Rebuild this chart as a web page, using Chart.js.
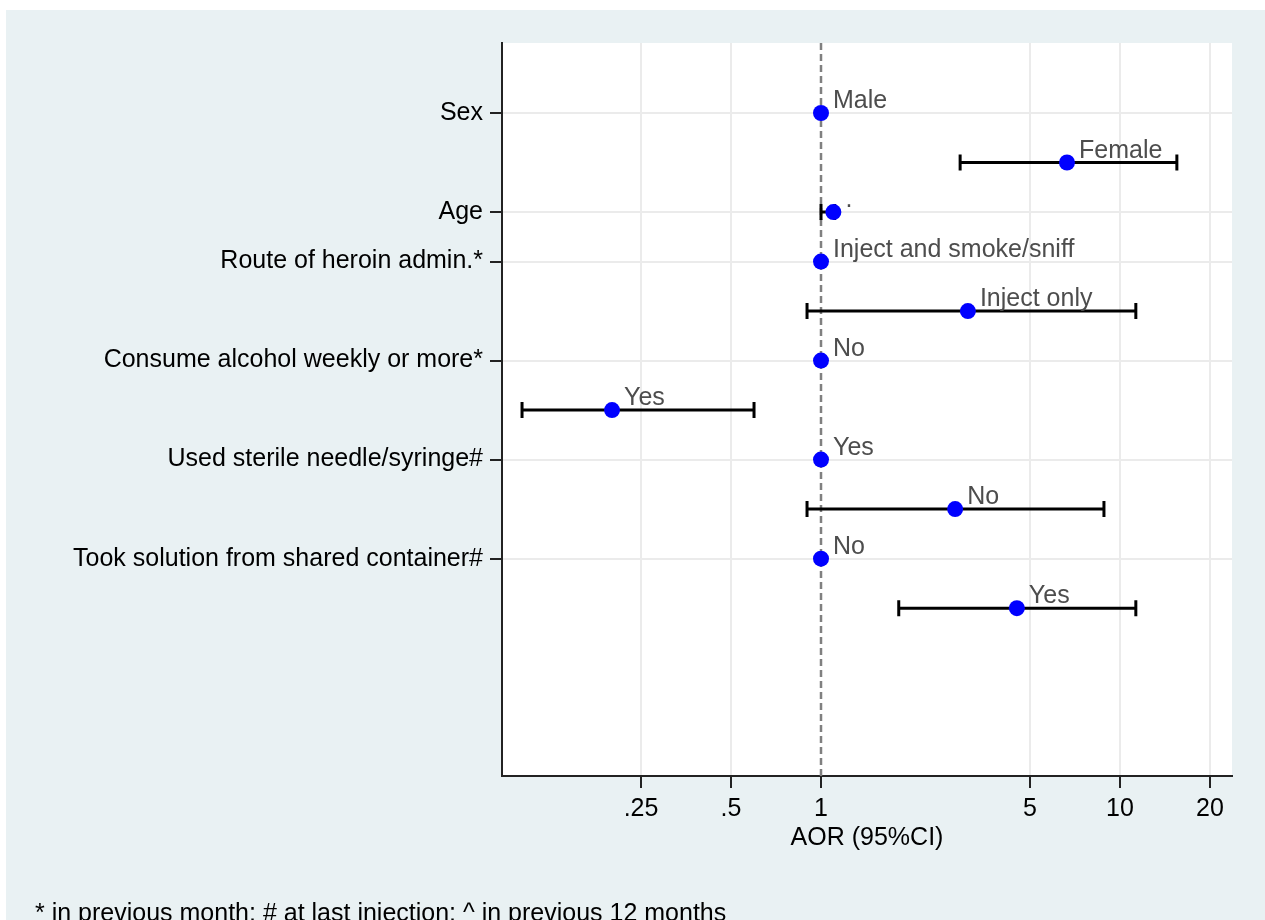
<!DOCTYPE html>
<html>
<head>
<meta charset="utf-8">
<script src="https://cdn.jsdelivr.net/npm/chart.js@4"></script>
<style>
  html, body { margin: 0; padding: 0; background: #fff; overflow: hidden; }
  #frame { position: absolute; left: 6px; top: 10px; width: 1259px; height: 910px; background: #e9f1f3; }
  #frame canvas { position: absolute; left: 0; top: 0; }
  #note { position: absolute; left: 35px; top: 897px; font: 25px "Liberation Sans", Arial, sans-serif; line-height: 30px; color: #000; white-space: nowrap; }
</style>
</head>
<body>
<div id="frame"><canvas id="forest" width="1259" height="910"></canvas></div>
<div id="note">* in previous month; # at last injection; ^ in previous 12 months</div>
<script>
"use strict";
// variable names on the y axis and the row each one sits on
const rowLabels = [
  "Sex",
  "Age",
  "Route of heroin admin.*",
  "Consume alcohol weekly or more*",
  "Used sterile needle/syringe#",
  "Took solution from shared container#",
];
const labelRows = [1, 3, 4, 6, 8, 10];

// one entry per estimate, top to bottom
const levels = ["Male", "Female", ".", "Inject and smoke/sniff", "Inject only", "No", "Yes", "Yes", "No", "No", "Yes"];
const aor = [1, 6.65, 1.1, 1, 3.1, 1, 0.2, 1, 2.81, 1, 4.52];
const ciLow = [null, 2.92, 1.0, null, 0.898, null, 0.1, null, 0.898, null, 1.82];
const ciHigh = [null, 15.5, 1.11, null, 11.3, null, 0.597, null, 8.84, null, 11.3];

const xTicks = [0.25, 0.5, 1, 5, 10, 20];

const FONT = '"Liberation Sans", Arial, sans-serif';
Chart.defaults.font.family = FONT;
Chart.defaults.color = "#000";

const forestMarks = {
  id: "forestMarks",
  beforeDraw(chart) {
    // white plot region on the tinted page
    const { ctx, chartArea: a } = chart;
    ctx.save();
    ctx.fillStyle = "#fff";
    ctx.fillRect(a.left, a.top, a.right - a.left, a.bottom - a.top);
    ctx.restore();
  },
  beforeDatasetsDraw(chart) {
    const { ctx, chartArea, scales: { x, y } } = chart;
    ctx.save();
    // null line at AOR = 1
    const x1 = x.getPixelForValue(1);
    ctx.strokeStyle = "#808080";
    ctx.lineWidth = 2.5;
    ctx.setLineDash([7, 4]);
    ctx.beginPath();
    ctx.moveTo(x1, chartArea.top);
    ctx.lineTo(x1, chartArea.bottom);
    ctx.stroke();
    ctx.setLineDash([]);

    // confidence intervals
    ctx.strokeStyle = "#000";
    ctx.lineWidth = 3;
    aor.forEach((v, i) => {
      if (ciLow[i] == null) return;
      const py = y.getPixelForValue(i + 1);
      const a = x.getPixelForValue(ciLow[i]);
      const b = x.getPixelForValue(ciHigh[i]);
      ctx.beginPath();
      ctx.moveTo(a, py);
      ctx.lineTo(b, py);
      ctx.moveTo(a, py - 8);
      ctx.lineTo(a, py + 8);
      ctx.moveTo(b, py - 8);
      ctx.lineTo(b, py + 8);
      ctx.stroke();
    });
    ctx.restore();
  },
  afterDatasetsDraw(chart) {
    const { ctx, scales: { x, y } } = chart;
    ctx.save();
    ctx.font = "25px " + FONT;
    ctx.fillStyle = "#4d4d4d";
    ctx.textAlign = "left";
    ctx.textBaseline = "alphabetic";
    levels.forEach((t, i) => {
      ctx.fillText(t, x.getPixelForValue(aor[i]) + 12, y.getPixelForValue(i + 1) - 5);
    });
    ctx.restore();
  },
};

new Chart(document.getElementById("forest"), {
  type: "scatter",
  data: {
    datasets: [
      {
        data: aor.map((v, i) => ({ x: v, y: i + 1 })),
        pointRadius: 8,
        pointHoverRadius: 8,
        backgroundColor: "#0000ff",
        borderWidth: 0,
      },
    ],
  },
  options: {
    responsive: false,
    animation: false,
    layout: { padding: { top: 33, right: 33, left: 0, bottom: 69 } },
    plugins: {
      legend: { display: false },
      tooltip: { enabled: false },
    },
    scales: {
      x: {
        type: "logarithmic",
        min: 0.0857,
        max: 23.7,
        afterBuildTicks: (s) => {
          s.ticks = xTicks.map((v) => ({ value: v }));
        },
        ticks: {
          callback: (v) => String(v).replace(/^0\./, "."),
          font: { size: 25 },
          color: "#000",
          padding: 6,
          maxRotation: 0,
          autoSkip: false,
        },
        grid: {
          color: (c) => (c.tick && c.tick.value === 1 ? "rgba(0,0,0,0)" : "#ebebeb"),
          lineWidth: 2,
          tickColor: "#222",
          tickWidth: 2,
          tickLength: 12,
        },
        border: { color: "#222", width: 2 },
        title: {
          display: true,
          text: "AOR (95%CI)",
          font: { size: 25, lineHeight: 1 },
          color: "#000",
          padding: { top: -4, bottom: 0 },
        },
      },
      y: {
        type: "linear",
        reverse: true,
        min: -0.414,
        max: 14.39,
        afterBuildTicks: (s) => {
          s.ticks = labelRows.map((v) => ({ value: v }));
        },
        afterFit: (s) => {
          s.width = 496;
        },
        ticks: {
          callback: (v) => rowLabels[labelRows.indexOf(v)],
          font: { size: 25 },
          color: "#000",
          padding: 7,
          autoSkip: false,
        },
        grid: {
          color: "#ebebeb",
          lineWidth: 2,
          tickColor: "#222",
          tickWidth: 2,
          tickLength: 12,
        },
        border: { color: "#222", width: 2 },
      },
    },
  },
  plugins: [forestMarks],
});
</script>
</body>
</html>
